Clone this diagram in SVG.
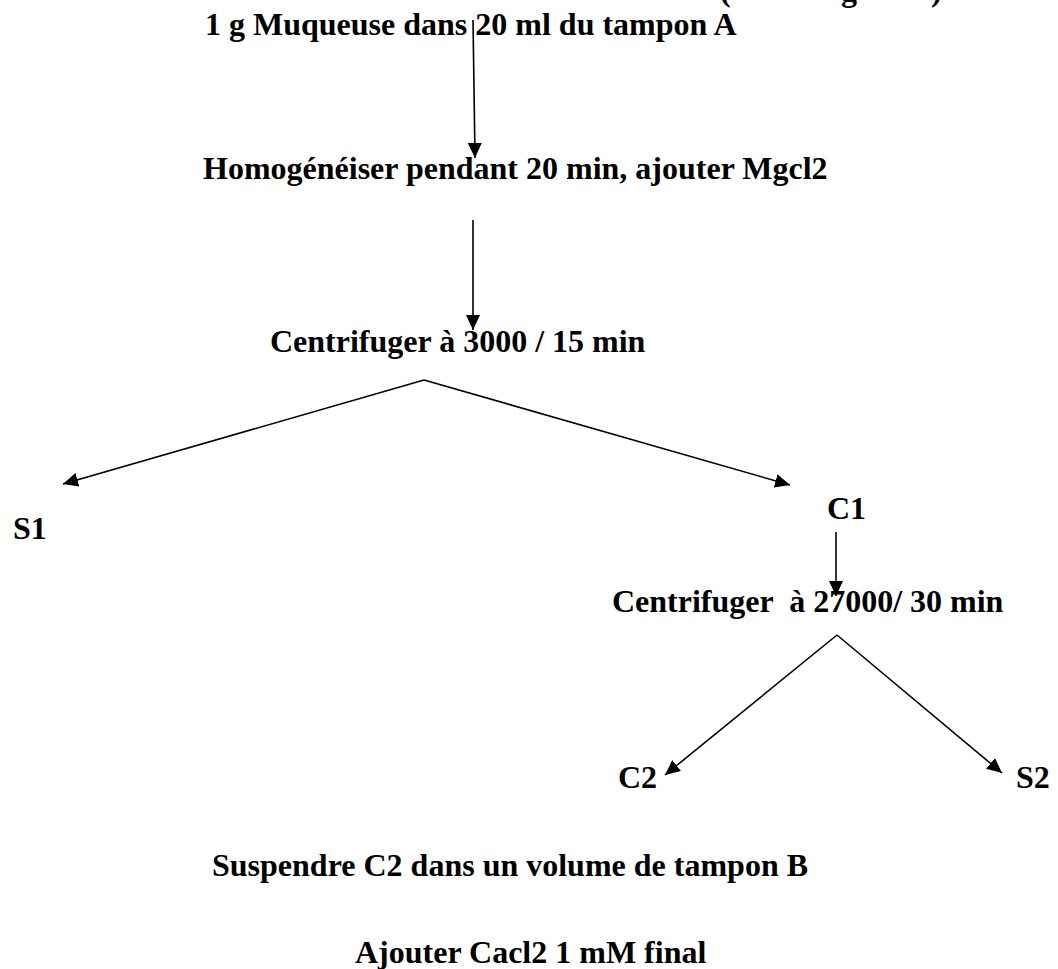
<svg xmlns="http://www.w3.org/2000/svg" width="1058" height="969" viewBox="0 0 1058 969">
<style>
text{font-family:"Liberation Serif","Times New Roman",serif;font-weight:bold;font-size:32px;fill:#000;white-space:pre}
.c{fill:none;stroke:#000;stroke-width:1.6}
</style>
<defs>
<marker id="ah" markerUnits="userSpaceOnUse" markerWidth="16" markerHeight="14" refX="15" refY="7" orient="auto">
<path d="M0,0 L15,7 L0,14 Z" fill="#000"/>
</marker>
</defs>
<rect width="1058" height="969" fill="#fff"/>
<g id="clipped-title">
<text x="720" y="1">(</text>
<text x="841" y="1">g</text>
<text x="931" y="1">)</text>
</g>
<g id="connectors">
<line class="c" x1="473" y1="20" x2="475" y2="158" marker-end="url(#ah)"/>
<line class="c" x1="473" y1="220" x2="473" y2="330" marker-end="url(#ah)"/>
<line class="c" x1="424" y1="380" x2="63" y2="484" marker-end="url(#ah)"/>
<line class="c" x1="424" y1="380" x2="790" y2="485" marker-end="url(#ah)"/>
<line class="c" x1="836" y1="532" x2="836" y2="596" marker-end="url(#ah)"/>
<line class="c" x1="837" y1="635" x2="665" y2="775" marker-end="url(#ah)"/>
<line class="c" x1="837" y1="635" x2="1002" y2="773" marker-end="url(#ah)"/>
</g>
<g id="n-muqueuse"><text x="205" y="35">1 g Muqueuse dans 20 ml du tampon A</text></g>
<g id="n-homogeneiser"><text x="203" y="179">Homogénéiser pendant 20 min, ajouter Mgcl2</text></g>
<g id="n-centrifuger1"><text x="270" y="352">Centrifuger à 3000 / 15 min</text></g>
<g id="n-s1"><text x="13" y="539">S1</text></g>
<g id="n-c1"><text x="827" y="519">C1</text></g>
<g id="n-centrifuger2"><text x="612" y="612">Centrifuger  à 27000/ 30 min</text></g>
<g id="n-c2"><text x="618" y="788">C2</text></g>
<g id="n-s2"><text x="1016" y="788">S2</text></g>
<g id="n-suspendre"><text x="212" y="876">Suspendre C2 dans un volume de tampon B</text></g>
<g id="n-ajouter"><text x="355" y="963">Ajouter Cacl2 1 mM final</text></g>
</svg>
